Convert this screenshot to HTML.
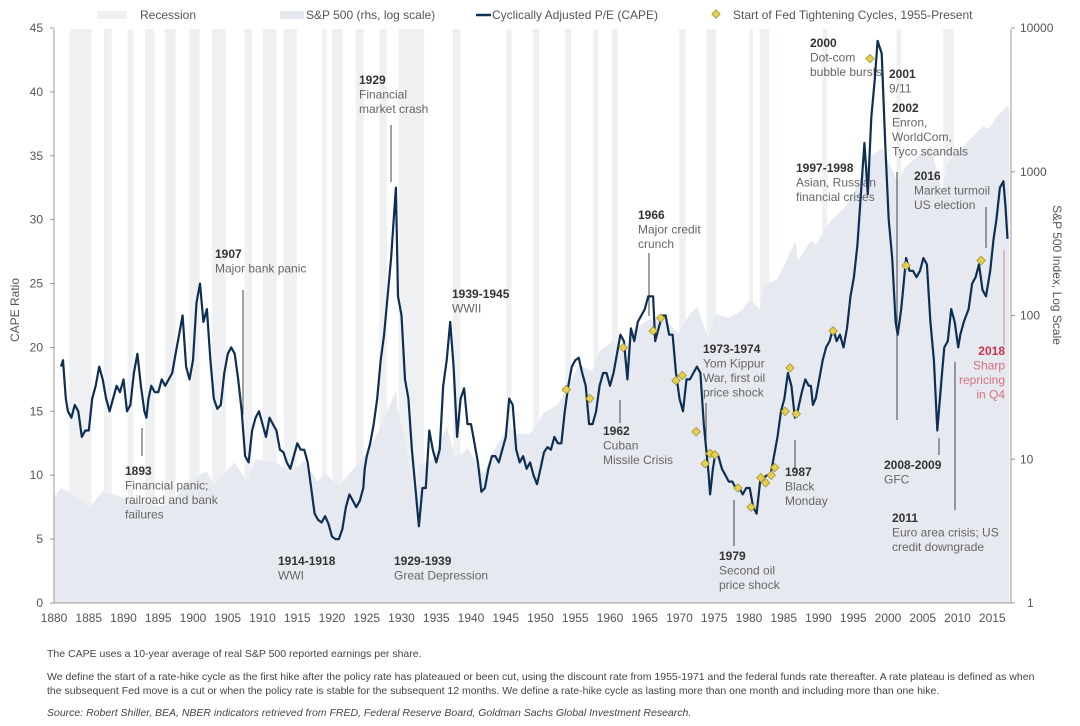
<!DOCTYPE html>
<html><head><meta charset="utf-8"><style>
html,body{margin:0;padding:0;background:#fff;}
svg{display:block;font-family:"Liberation Sans",Arial,sans-serif;}
.b{font-weight:bold;fill:#333;font-size:12px}
.n{fill:#666;font-size:12px}
.t{fill:#555;font-size:12px}
.f{fill:#444;font-size:10.5px}
</style></head><body>
<svg id="chart" width="1080" height="726" viewBox="0 0 1080 726">
<g id="bands"></g>
<path id="spArea" fill="#e6e9f0"/>
<g id="axes"></g>
<g id="ann"></g>
<path id="capeLine" fill="none" stroke="#0d2f54" stroke-width="2.2" stroke-linejoin="round"/>
<g id="dias"></g>
<g>
<rect x="97" y="11" width="30" height="8" fill="#eeeff2"/>
<text x="140" y="19" class="t">Recession</text>
<rect x="280" y="11" width="24" height="8" fill="#e6e9f0"/>
<text x="306" y="19" class="t">S&amp;P 500 (rhs, log scale)</text>
<line x1="476" y1="15" x2="491" y2="15" stroke="#0d2f54" stroke-width="2.5"/>
<text x="492" y="19" class="t">Cyclically Adjusted P/E (CAPE)</text>
<rect x="713" y="11" width="6" height="6" transform="rotate(45 716 14)" fill="#e4cf4f" stroke="#9a8a2a" stroke-width="0.7"/>
<text x="733" y="19" class="t">Start of Fed Tightening Cycles, 1955-Present</text>
</g>
<text transform="translate(19,310) rotate(-90)" text-anchor="middle" class="t">CAPE Ratio</text>
<text transform="translate(1053,275) rotate(90)" text-anchor="middle" class="t">S&amp;P 500 Index, Log Scale</text>
<g>
<text x="47" y="657" class="f">The CAPE uses a 10-year average of real S&amp;P 500 reported earnings per share.</text>
<text x="47" y="680" class="f">We define the start of a rate-hike cycle as the first hike after the policy rate has plateaued or been cut, using the discount rate from 1955-1971 and the federal funds rate thereafter. A rate plateau is defined as when</text>
<text x="47" y="694" class="f">the subsequent Fed move is a cut or when the policy rate is stable for the subsequent 12 months. We define a rate-hike cycle  as lasting more than one month and including more than one hike.</text>
<text x="47" y="716" class="f" font-style="italic">Source: Robert Shiller, BEA, NBER indicators retrieved from FRED, Federal Reserve Board, Goldman Sachs Global Investment Research.</text>
</g>
</svg>
<script>
const capeYears=[1881,1881.3,1881.7,1882,1882.5,1883,1883.5,1884,1884.5,1885,1885.5,1886,1886.5,1887,1887.5,1888,1888.5,1889,1889.5,1890,1890.5,1891,1891.5,1892,1892.5,1893,1893.3,1893.6,1894,1894.5,1895,1895.5,1896,1896.5,1897,1897.5,1898,1898.5,1899,1899.5,1900,1900.5,1901,1901.5,1902,1902.5,1903,1903.5,1904,1904.5,1905,1905.5,1906,1906.5,1907,1907.5,1908,1908.5,1909,1909.5,1910,1910.5,1911,1911.5,1912,1912.5,1913,1913.5,1914,1914.5,1915,1915.5,1916,1916.5,1917,1917.5,1918,1918.5,1919,1919.5,1920,1920.5,1921,1921.5,1922,1922.5,1923,1923.5,1924,1924.5,
1924.7,1925.0,1925.5,1926,1926.5,1927,1927.5,1928,1928.5,1929.2,
1929.5,1930,1930.5,1931,1931.5,1932,1932.5,1933,1933.5,1934,1934.5,1935,1935.5,1936,1936.5,1937,1937.5,1938,1938.5,1939,1939.5,1940,1940.5,1941,1941.5,1942,1942.5,1943,1943.5,1944,1944.5,1945,1945.5,1946,1946.5,1947,1947.5,1948,1948.5,1949,1949.5,1950,1950.5,1951,1951.5,1952,1952.5,1953,1953.5,1954,1954.5,1955,1955.5,1956,1956.5,1957,1957.5,1958,1958.5,1959,1959.5,1960,1960.5,1961,1961.5,1962,1962.5,1963,1963.5,1964,1964.5,1965,1965.5,
1966.2,1966.5,1967,1967.5,1968,1968.5,1969,1969.5,1970,1970.5,1971,1971.5,1972,1972.5,1973,1973.5,1974.2,
1974.4,1974.8,1975.1,1975.6,1976.1,1976.6,1977.1,1977.6,1978.1,1978.6,1979.1,1979.6,1980.1,1980.6,1981.1,1981.6,1982.1,1982.6,1983.1,1983.6,1984.1,1984.6,1985.1,1985.6,1986.1,1986.6,1987.0,1987.6,1988.1,1988.6,
1988.9,1989.2,1989.6,1990.1,1990.6,1991.1,1991.6,1992.1,1992.6,1993.1,1993.6,1994.1,1994.6,1995.1,1995.6,1996.1,1996.6,1997.1,1997.6,1998.1,1998.5,1999.1,1999.6,2000.1,2000.6,2001.1,2001.4,2001.9,2002.6,2003.1,2003.6,2004.1,2004.6,2005.1,2005.6,2006.1,2006.6,2007.1,2007.7,2008.1,2008.6,2009.1,2009.6,2010.1,2010.4,2010.9,2011.6,2012.1,2012.6,2013.1,2013.6,2014.1,2014.7,2015.2,2015.6,2016.1,2016.6,2016.9,2017.2,2017.5];
const capeValues=[18.5,19,16,15,14.5,15.5,15,13,13.5,13.5,16,17,18.5,17.5,16,15,16,17,16.5,17.5,15,15.5,18,19.5,17,15,14.5,16,17,16.5,16.5,17.5,17,17.5,18,19.5,21,22.5,18.5,17.5,19,23.5,25,22,23,19,16,15.2,15.5,18,19.5,20,19.5,17.5,15,11.5,11,13.5,14.5,15,14,13,14.5,14,13.5,12,11.8,11,10.5,11.5,12.5,12,12,11,9,7,6.5,6.3,6.8,6.2,5.2,5,5,5.8,7.5,8.5,8,7.5,8,9,10.5,11.5,12.5,14,16,19,21,24,27,32.5,24,22.5,17.5,16,12,9,6,9,9,13.5,12,11,12,17,19,22,18.5,13,16,16.8,14,14,12.5,11,8.7,9,10.5,11.5,11.5,11,12,13,16,15.5,12,11,11.5,10.5,11,10,9.3,10.5,11.8,12.2,12,13,12.5,12.5,15,17,18.5,19,19.2,18,17,14,14,15,17,18,18,17,18,19.5,21,20.5,17.5,21.5,20.5,22,22.5,23,24,24,20.5,21.5,22.5,22.5,21,21,18,16,15,17.5,17.5,18,18.5,18,14,10,8.5,10.5,11.5,11.5,10.5,10,9.5,9.5,9,9,8.5,9,9,7.5,7,9.5,9.8,10,10,11.5,13,15,16,18,17,14.5,15,16.5,17.5,17,17,15.5,16,17.5,19,20,20.5,21.5,20.5,21,20,21.5,24,25.5,28,32,36,32,38,41,44,43,36,30,27,22,21,23,27,26,26,25.5,26,27,26.5,22,19,13.5,17.5,20,20.5,23,22,20,21,22,23,25,25.5,26.5,24.5,24,26,28.5,30,32.5,33,31,28.5];
const spYears=[1880,1881,1883,1885,1887,1890,1893,1895,1897,1899,1901,1902,1903,1905,1906,1907.8,1909,1912,1914,1916,1917.9,1919,1921,1923,1925,1926.5,1927.5,1929.2,1929.5,1930.5,1932,1932.5,1934.5,1936.5,1937.8,1939.5,1941.8,1943.5,1945.5,1946.5,1948.5,1950.5,1952.5,1954.5,1955.5,1957.4,1958.5,1960.5,1962,1963.5,1965.5,1967.5,1969.9,1971.5,1972.5,1974.2,1975.1,1977.1,1979.1,1980.1,1981.6,1982.1,1984.1,1986.7,1987.0,1988.9,1989.6,1991.6,1993.6,1994.6,1996.6,1997.6,1999.1,2001.4,2002.6,2006.1,2007.8,2008.6,2009.6,2011.6,2013.6,2014.6,2015.6,2017.3,2017.5];
const spValues=[5.5,6.3,5.6,4.6,6,5.4,4.9,4.7,5,6.8,7.8,8.2,6.6,8.5,9.5,7,10,9.5,8,9.8,7,8,6.5,8.5,11,15,19,30,22,14,5,9,10,17,10,12,8,12,17,15,15,21,24,36,46,41,57,66,57,80,93,98,75,103,115,68,102,96,110,130,110,160,180,330,240,330,310,450,550,650,1000,1300,1450,850,1100,1520,740,1150,1300,1650,2060,2000,2400,2900,2550];
const recStart=[1882.2,1887.2,1890.6,1893.1,1895.95,1899.45,1902.7,1907.4,1910.05,1913.05,1918.6,1920.05,1923.4,1926.8,1929.6,1937.4,1945.1,1948.9,1953.5,1957.6,1960.3,1969.95,1973.9,1980.05,1981.55,1990.55,2001.2,2007.95];
const recEnd=[1885.4,1888.3,1891.4,1894.5,1897.5,1900.95,1904.7,1908.5,1912.05,1914.95,1919.25,1921.55,1924.55,1927.9,1933.25,1938.5,1945.8,1949.8,1954.4,1958.3,1961.15,1970.9,1975.25,1980.55,1982.9,1991.25,2001.9,2009.5];
const fedYears=[1953.7,1957.1,1961.9,1966.2,1967.3,1969.5,1970.4,1972.4,1973.7,1974.4,1975.1,1978.4,1980.3,1981.7,1982.4,1983.2,1983.7,1985.2,1985.9,1986.8,1992.1,1997.4,2002.6,2013.4];
const fedValues=[16.7,16,20,21.3,22.3,17.4,17.8,13.4,10.9,11.7,11.6,9,7.5,9.8,9.4,10,10.6,15,18.4,14.8,21.3,42.6,26.4,26.8];
const xTicks=[1880,1885,1890,1895,1900,1905,1910,1915,1920,1925,1930,1935,1940,1945,1950,1955,1960,1965,1970,1975,1980,1985,1990,1995,2000,2005,2010,2015];
const yTicks=[0,5,10,15,20,25,30,35,40,45];
const y2Ticks=[1,10,100,1000,10000];

const NS='http://www.w3.org/2000/svg';
const X=y=>54+(y-1880)*6.95;
const YL=v=>603-v*12.778;
const YR=s=>603-Math.log10(s)*143.75;
function mk(tag,attrs,parent){const e=document.createElementNS(NS,tag);for(const k in attrs)e.setAttribute(k,attrs[k]);parent.appendChild(e);return e;}

const bands=document.getElementById('bands');
recStart.forEach((s,i)=>{
  const r=mk('rect',{x:X(s),y:29,width:X(recEnd[i])-X(s),height:574,fill:'#eff0f2'},bands);
  
  
});

let d='M'+X(spYears[0])+',603';
spYears.forEach((y,i)=>{d+=' L'+X(y).toFixed(1)+','+YR(spValues[i]).toFixed(1);});
d+=' L'+X(spYears[spYears.length-1])+',603 Z';
document.getElementById('spArea').setAttribute('d',d);

let c='';
capeYears.forEach((y,i)=>{c+=(i?' L':'M')+X(y).toFixed(1)+','+YL(capeValues[i]).toFixed(1);});
document.getElementById('capeLine').setAttribute('d',c);

const dias=document.getElementById('dias');
fedYears.forEach((y,i)=>{
  const cx=X(y),cy=YL(fedValues[i]);
  const p=mk('rect',{x:cx-3,y:cy-3,width:6,height:6,transform:`rotate(45 ${cx} ${cy})`,fill:'#e4cf4f',stroke:'#9a8a2a','stroke-width':0.7},dias);
  
  
});

const ax=document.getElementById('axes');
mk('line',{x1:54,y1:29,x2:54,y2:603,stroke:'#999','stroke-width':1},ax);
mk('line',{x1:54,y1:603,x2:1011,y2:603,stroke:'#999','stroke-width':1},ax);
mk('line',{x1:1011,y1:29,x2:1011,y2:603,stroke:'#999','stroke-width':1},ax);
yTicks.forEach(v=>{
  mk('line',{x1:50,y1:YL(v),x2:54,y2:YL(v),stroke:'#999'},ax);
  const t=mk('text',{x:43,y:YL(v)+4,'text-anchor':'end',class:'t'},ax);t.textContent=v;
  
  
});
y2Ticks.forEach(v=>{
  mk('line',{x1:1011,y1:YR(v),x2:1015,y2:YR(v),stroke:'#999'},ax);
  const t=mk('text',{x:v===1?1027:1020,y:YR(v)+4,class:'t'},ax);t.textContent=v;
  
  
});
xTicks.forEach(v=>{
  const t=mk('text',{x:X(v),y:622,'text-anchor':'middle',class:'t'},ax);t.textContent=v;
  
  
});

const ann=document.getElementById('ann');
const notes=[
 [125,475,'1893',['Financial panic;','railroad and bank','failures'],142,428,456,'#333','start'],
 [215,258,'1907',['Major bank panic'],243,290,415,'#333','start'],
 [359,84,'1929',['Financial','market crash'],391,125,182,'#333','start'],
 [278,565,'1914-1918',['WWI'],0,0,0,'','start'],
 [394,565,'1929-1939',['Great Depression'],0,0,0,'','start'],
 [452,298,'1939-1945',['WWII'],0,0,0,'','start'],
 [603,435,'1962',['Cuban','Missile Crisis'],620,400,423,'#333','start'],
 [638,219,'1966',['Major credit','crunch'],649,253,316,'#333','start'],
 [703,353,'1973-1974',['Yom Kippur','War, first oil','price shock'],706,403,445,'#333','start'],
 [719,560,'1979',['Second oil','price shock'],734,500,546,'#333','start'],
 [785,476,'1987',['Black','Monday'],795,440,470,'#333','start'],
 [796,172,'1997-1998',['Asian, Russian','financial crises'],0,0,0,'','start'],
 [810,47,'2000',['Dot-com','bubble bursts'],0,0,0,'','start'],
 [889,78,'2001',['9/11'],0,0,0,'','start'],
 [892,112,'2002',['Enron,','WorldCom,','Tyco scandals'],897,172,420,'#333','start'],
 [914,180,'2016',['Market turmoil','US election'],986,207,248,'#333','start'],
 [884,469,'2008-2009',['GFC'],939,438,455,'#333','start'],
 [892,522,'2011',['Euro area crisis; US','credit downgrade'],955,362,510,'#333','start'],
 [1005,355,'2018',['Sharp','repricing','in Q4'],1004,250,345,'#c8364a','end']
];
notes.forEach(n=>{
  const [x,y,title,lines,lx,ly1,ly2,lc,anchor]=n;
  const g=mk('g',{},ann);
  
  
  if(lx) mk('line',{x1:lx,y1:ly1,x2:lx,y2:ly2,stroke:lc==='#c8364a'?'#d9848f':'#444','stroke-width':1},g);
  const red=title==='2018';
  const t=mk('text',{x:x,y:y,class:'b','text-anchor':anchor},g);t.textContent=title;
  if(red)t.setAttribute('style','fill:#c8364a');
  lines.forEach((l,i)=>{const s=mk('text',{x:x,y:y+14.5*(i+1),class:'n','text-anchor':anchor},g);s.textContent=l;if(red)s.setAttribute('style','fill:#d9707e');});
});
</script>
</body></html>
